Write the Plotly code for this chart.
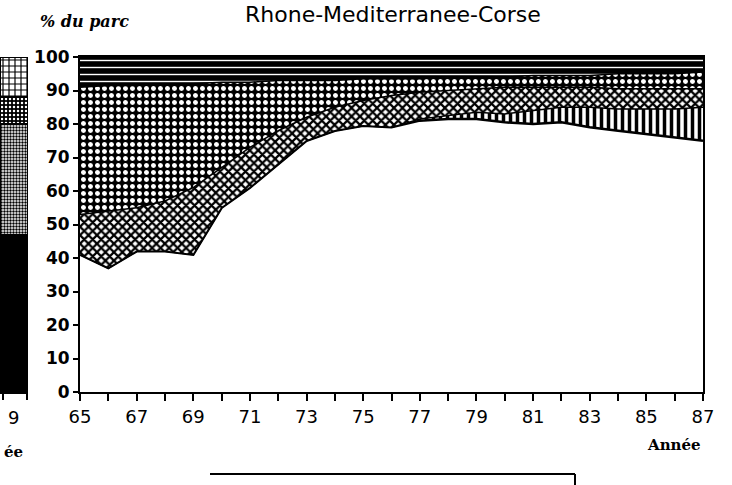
import plotly.graph_objects as go

# ---------------- data (shares of the fleet, %) ----------------
years = list(range(65, 88))
tick_years = list(range(65, 88))
tick_text = ["65", "", "67", "", "69", "", "71", "", "73", "", "75", "", "77", "",
             "79", "", "81", "", "83", "", "85", "", "87"]
y_ticks = [0, 10, 20, 30, 40, 50, 60, 70, 80, 90, 100]

share_plain = [41, 37, 42, 42, 41, 55, 61, 68, 75, 78, 79.5, 79, 81, 81.5, 81.5,
               80.5, 80, 80.5, 79, 78, 77, 76, 75]
share_stripes = [0, 0, 0, 0, 0, 0, 0, 0, 0, 0, 0, 0, 0.5, 1, 2, 2.5, 4, 4.5, 6, 6.5,
                 7.5, 8.5, 10]
share_checker = [12, 17, 13, 15, 20, 12, 12, 10, 7, 7, 7.5, 9.5, 8, 7.5, 7, 8, 7, 6,
                 6, 6, 6, 6, 5.5]
share_dots = [38, 37.5, 36.5, 35, 31, 25.5, 19.5, 15, 11, 8, 6.5, 5, 4, 4, 3.5, 3,
              3.5, 3.5, 3.5, 4.5, 4.5, 4.5, 5]
share_dashes = [9, 8.5, 8.5, 8, 8, 7.5, 7.5, 7, 7, 7, 6.5, 6.5, 6.5, 6, 6, 6, 5.5,
                5.5, 5.5, 5, 5, 5, 5]

# neighbouring chart's last bar, partly visible at the left edge
neighbour_segments = [47, 33, 8, 12]

W, H = 732, 485
L, R, T, B = 0, 29, 57, 93
PW = W - L - R
PH = H - T - B


def px(xpix):
    return (xpix - L) / PW


def py(ypix):
    return (H - B - ypix) / PH


fig = go.Figure()

layers = [
    (share_plain, None, 2.5),
    (share_stripes, dict(shape="|", fgcolor="black", bgcolor="white", size=7, solidity=0.5), 1.5),
    (share_checker, dict(shape="x", fgcolor="black", bgcolor="white", size=6, solidity=0.6), 1.5),
    (share_dots, dict(shape=".", fgcolor="white", bgcolor="black", size=7, solidity=0.4), 1.5),
    (share_dashes, dict(shape="-", fgcolor="white", bgcolor="black", size=7, solidity=0.2), 3),
]
for vals, pat, lw in layers:
    kw = dict(x=years, y=vals, mode="lines", stackgroup="one",
              line=dict(color="black", width=lw), hoverinfo="skip", showlegend=False,
              xaxis="x", yaxis="y")
    if pat is None:
        kw["fillcolor"] = "white"
    else:
        kw["fillcolor"] = pat["bgcolor"]
        kw["fillpattern"] = dict(fillmode="replace", **pat)
    fig.add_trace(go.Scatter(**kw))

neigh_styles = [
    dict(color="black"),
    dict(color="white", pattern=dict(shape=".", fgcolor="black", bgcolor="white", size=3,
                                     solidity=0.5, fillmode="replace")),
    dict(color="black", pattern=dict(shape=".", fgcolor="white", bgcolor="black", size=4,
                                     solidity=0.3, fillmode="replace")),
    dict(color="white", pattern=dict(shape="+", fgcolor="black", bgcolor="white", size=6,
                                     solidity=0.35, fillmode="replace")),
]
for v, st in zip(neighbour_segments, neigh_styles):
    fig.add_trace(go.Bar(x=[0], y=[v], width=1, xaxis="x2", yaxis="y",
                         marker=dict(line=dict(color="black", width=1.5), **st),
                         hoverinfo="skip", showlegend=False))

tick_font = dict(family="DejaVu Sans", size=18, color="black")

fig.update_layout(
    width=W, height=H,
    margin=dict(l=L, r=R, t=T, b=B, autoexpand=False),
    paper_bgcolor="white", plot_bgcolor="white",
    barmode="stack",
    xaxis=dict(domain=[px(80), 1], range=[65, 87], tickmode="array",
               tickvals=tick_years, ticktext=tick_text, ticks="outside", ticklen=7,
               tickwidth=2, tickcolor="black", showline=True, linewidth=2,
               linecolor="black", mirror=True, showgrid=False, zeroline=False,
               tickfont=tick_font, anchor="y", automargin=False),
    xaxis2=dict(domain=[0, px(28)], range=[-0.5, 0.5], showline=True, linewidth=2,
                linecolor="black", ticks="outside", ticklen=6, tickwidth=2,
                tickcolor="black", tickvals=[-0.4, 0.45], showticklabels=False,
                showgrid=False, zeroline=False, anchor="y", automargin=False),
    yaxis=dict(range=[0, 100], tickmode="array", tickvals=y_ticks,
               ticks="outside", ticklen=5, tickwidth=2, tickcolor="black",
               showline=True, linewidth=2, linecolor="black", mirror=True,
               showgrid=False, zeroline=False, anchor="x", automargin=False,
               tickfont=dict(family="DejaVu Sans", size=17, color="black", weight="bold")),
    annotations=[
        dict(text="Rhone-Mediterranee-Corse", xref="paper", yref="paper",
             x=px(393), y=py(0), xanchor="center", yanchor="top", showarrow=False,
             font=dict(family="DejaVu Sans", size=22, color="black")),
        dict(text="<b><i>% du parc</i></b>", xref="paper", yref="paper",
             x=px(84), y=py(22), xanchor="center", yanchor="middle", showarrow=False,
             font=dict(family="DejaVu Serif", size=16, color="black")),
        dict(text="<b>Année</b>", xref="paper", yref="paper",
             x=px(674), y=py(445), xanchor="center", yanchor="middle", showarrow=False,
             font=dict(family="DejaVu Serif", size=15, color="black")),
        dict(text="9", xref="paper", yref="paper",
             x=px(13), y=py(418), xanchor="center", yanchor="middle", showarrow=False,
             font=tick_font),
        dict(text="<b>ée</b>", xref="paper", yref="paper",
             x=px(2), y=py(452), xanchor="left", yanchor="middle", showarrow=False,
             font=dict(family="DejaVu Serif", size=15, color="black")),
    ],
    shapes=[
        dict(type="line", xref="paper", yref="paper", x0=px(210), x1=px(575),
             y0=py(474), y1=py(474), line=dict(color="black", width=2)),
        dict(type="line", xref="paper", yref="paper", x0=px(575), x1=px(575),
             y0=py(474), y1=py(490), line=dict(color="black", width=2)),
    ],
)

fig.write_html("out.html", config={"displayModeBar": False},
               post_script="document.body.style.margin='0';")
